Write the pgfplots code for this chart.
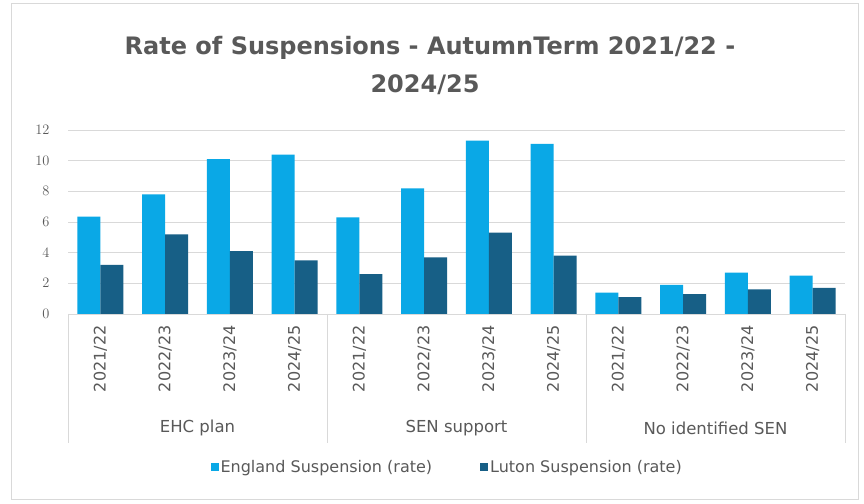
\documentclass[border=0pt]{standalone}
\usepackage{fontspec}
\setmainfont{DejaVu Sans}
\usepackage{pgfplots}
\pgfplotsset{compat=1.18}
\definecolor{eng}{HTML}{0AA8E6}
\definecolor{lut}{HTML}{175F86}
\definecolor{txt}{HTML}{595959}
\definecolor{grd}{HTML}{D9D9D9}
\begin{document}
\begin{tikzpicture}[x=1pt,y=1pt]
\useasboundingbox (0,0) rectangle (864,503);
\fill[white] (0,0) rectangle (864,503);
\draw[grd,line width=1pt] (11,4) rectangle (858,499);
\node[txt,font=\fontsize{24}{28}\selectfont\bfseries] at (430,455) {Rate of Suspensions - AutumnTerm 2021/22 -};
\node[txt,font=\fontsize{24}{28}\selectfont\bfseries] at (425,418) {2024/25};
\begin{axis}[
  at={(68pt,189pt)}, anchor=south west,
  scale only axis, width=777pt, height=184pt,
  xmin=-0.5, xmax=11.5, ymin=0, ymax=12,
  ytick={0,2,...,12},
  xtick={0,...,11},
  xticklabels={2021/22,2022/23,2023/24,2024/25,2021/22,2022/23,2023/24,2024/25,2021/22,2022/23,2023/24,2024/25},
  xticklabel style={rotate=90, anchor=east, font=\fontsize{16}{18}\selectfont, text=txt, xshift=-8pt},
  yticklabel style={font=\fontsize{15.5}{17}\selectfont, text=txt, xshift=-15pt},
  major tick length=0pt,
  ymajorgrids, grid style={grd, line width=0.8pt},
  axis line style={draw=none},
  ybar=0pt, bar width=23pt,
  clip=false,
  legend style={at={(0.488,-0.83)}, anchor=center, draw=none, legend columns=2,
    font=\fontsize{16}{18}\selectfont, text=txt,
    /tikz/every even column/.append style={column sep=46pt}},
  legend image code/.code={\fill[#1] (0pt,-4pt) rectangle (8pt,4pt);},
]
\addplot[fill=eng, draw=none] coordinates {(0,6.35) (1,7.8) (2,10.1) (3,10.4) (4,6.3) (5,8.2) (6,11.3) (7,11.1) (8,1.4) (9,1.9) (10,2.7) (11,2.5)};
\addplot[fill=lut, draw=none] coordinates {(0,3.2) (1,5.2) (2,4.1) (3,3.5) (4,2.6) (5,3.7) (6,5.3) (7,3.8) (8,1.1) (9,1.3) (10,1.6) (11,1.7)};
\legend{England Suspension (rate), Luton Suspension (rate)}
\draw[grd, line width=0.8pt] (axis cs:-0.5,0) -- (axis cs:11.5,0);
\end{axis}
\foreach \xx in {68,327,586,845} {\draw[grd,line width=0.8pt] (\xx,189) -- (\xx,60);}
\node[txt,font=\fontsize{16.5}{18}\selectfont] at (197.5,75) {EHC plan};
\node[txt,font=\fontsize{16.5}{18}\selectfont] at (456.5,75) {SEN support};
\node[txt,font=\fontsize{16.5}{18}\selectfont] at (715.5,75) {No identified SEN};
\end{tikzpicture}
\end{document}
